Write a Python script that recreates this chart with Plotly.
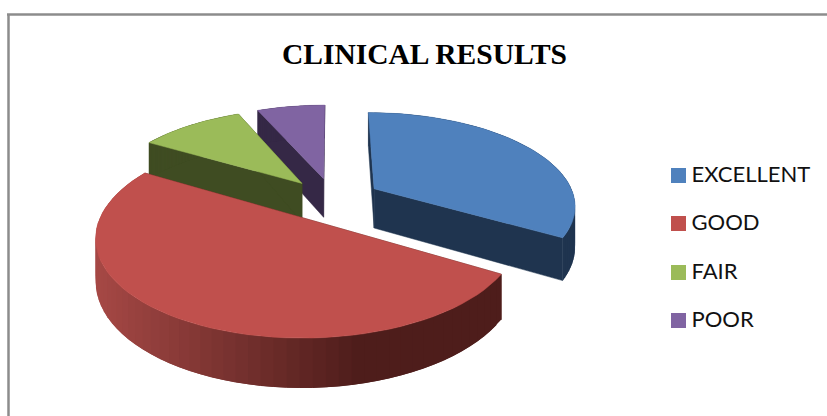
import math
import plotly.graph_objects as go

categories = ["EXCELLENT", "GOOD", "FAIR", "POOR"]
values = [33.5, 50, 10, 6.5]
top_colors = ["#4F81BD", "#C0504D", "#9BBB59", "#8064A2"]
wall_colors = ["#1F344F", "#4E1D1B", "#3F4C22", "#352846"]

CX, CY, RX, RY, K, H, EX = 333.0, 199.5, 201.0, 92.0, 0.165, 40.0, 0.24
KEY_X, KEY_Y = 678.5, [175.5, 223.5, 272.5, 320.5]
KEY_TEXT_X = 691.5


def proj(X, Y, drop=0.0):
    d = 1 + K * Y
    return CX + RX * X / d, CY + (-RY * Y + drop) / d


def poly(pts, color, lw=0.5):
    xs = [p[0] for p in pts] + [pts[0][0]]
    ys = [p[1] for p in pts] + [pts[0][1]]
    return go.Scatter(x=xs, y=ys, mode="lines", fill="toself", fillcolor=color,
                      line=dict(color=color, width=lw), hoverinfo="skip", showlegend=False)


def lerp_hex(a, b, t):
    ca = [int(a[i:i + 2], 16) for i in (1, 3, 5)]
    cb = [int(b[i:i + 2], 16) for i in (1, 3, 5)]
    return "#" + "".join(f"{round(p + (q - p) * t):02x}" for p, q in zip(ca, cb))


total = sum(values)
spans, acc = [], 0.0
for v in values:
    a0 = acc / total * 2 * math.pi
    acc += v
    spans.append((a0, acc / total * 2 * math.pi))

traces = []
for idx in [3, 2, 0, 1]:
    a0, a1 = spans[idx]
    mid = (a0 + a1) / 2
    ox, oy = EX * math.sin(mid), EX * math.cos(mid)
    n = 60
    arc = [(ox + math.sin(a0 + (a1 - a0) * i / n), oy + math.cos(a0 + (a1 - a0) * i / n)) for i in range(n + 1)]
    # cut faces
    for end in (arc[0], arc[-1]):
        traces.append(poly([proj(ox, oy), proj(*end), proj(*end, H), proj(ox, oy, H)], wall_colors[idx]))
    # outer wall, in strips; the first-drawn strips are overlapped by later ones so no seams show
    for i in range(n):
        p, q = arc[i], arc[min(i + 2, n)]
        col = wall_colors[idx]
        if idx == 1:
            xpos = proj(*p)[0]
            t = min(1.0, max(0.0, (xpos - 100) / 265))
            col = lerp_hex("#A54845", wall_colors[idx], t)
        traces.append(poly([proj(*p), proj(*q), proj(*q, H), proj(*p, H)], col, lw=0))
    traces.append(poly([proj(ox, oy)] + [proj(*p) for p in arc], top_colors[idx]))

# key: one square and its label per category
for name, col, row in zip(categories, top_colors, KEY_Y):
    traces.append(go.Scatter(x=[KEY_X], y=[row], mode="markers", showlegend=False, hoverinfo="skip",
                             marker=dict(symbol="square", size=15, color=col, line=dict(width=0))))
    traces.append(go.Scatter(x=[KEY_TEXT_X], y=[row + 0.5], mode="text", text=[name],
                             textposition="middle right", showlegend=False, hoverinfo="skip",
                             textfont=dict(family="Lato", size=22, color="#111111")))

fig = go.Figure(traces)
fig.update_layout(
    width=827, height=416, autosize=False,
    margin=dict(l=0, r=0, t=0, b=0),
    paper_bgcolor="white", plot_bgcolor="white", showlegend=False,
    xaxis=dict(visible=False, range=[0, 827], fixedrange=True),
    yaxis=dict(visible=False, range=[416, 0], fixedrange=True),
    annotations=[dict(text="<b>CLINICAL RESULTS</b>", x=424, y=54, xref="x", yref="y",
                      showarrow=False, font=dict(family="Liberation Serif", size=29.5, color="#000000"))],
    shapes=[
        dict(type="line", xref="x", yref="y", x0=7, x1=827, y0=14.5, y1=14.5, line=dict(color="#8C8C8C", width=2.5)),
        dict(type="line", xref="x", yref="y", x0=8.5, x1=8.5, y0=14, y1=416, line=dict(color="#8C8C8C", width=2.5)),
    ],
)
fig.write_html("out.html", config=dict(displayModeBar=False),
               post_script="document.body.style.margin='0';document.documentElement.style.overflow='hidden';")
